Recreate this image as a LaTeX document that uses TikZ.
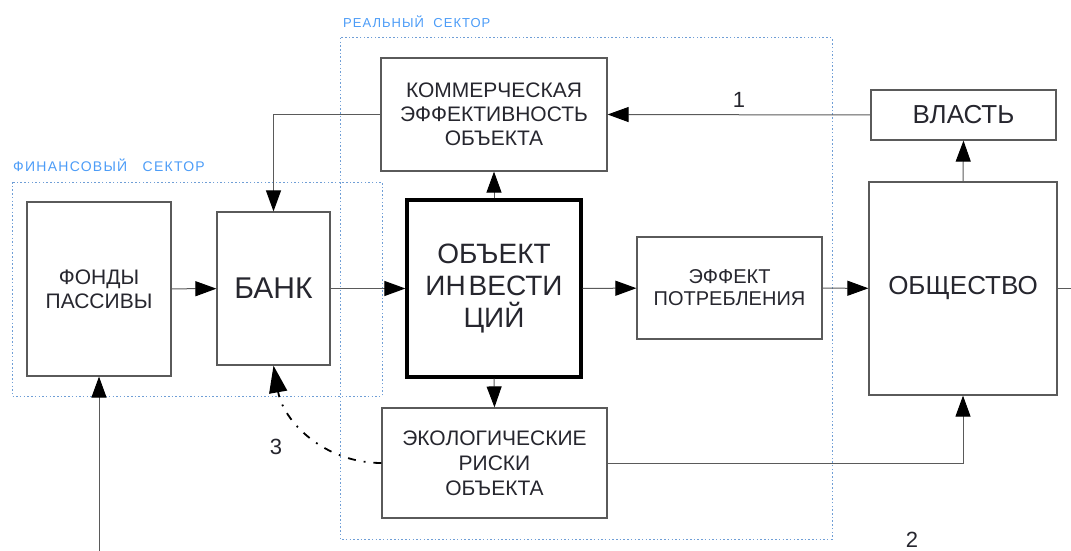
\documentclass[tikz,border=0pt]{standalone}
\usepackage{fontspec}
\setmainfont{Liberation Sans}
\usetikzlibrary{arrows.meta}

\definecolor{boxgray}{HTML}{5A5A5A}
\definecolor{sectblue}{HTML}{6F9ED6}
\definecolor{labblue}{HTML}{4C9CF7}
\definecolor{txtdark}{HTML}{26262E}

\begin{document}
\begin{tikzpicture}[x=1pt,y=-1pt,
    blk/.style={draw=boxgray,line width=1.2pt,rectangle,inner sep=0pt,align=center,text=txtdark},
    link/.style={draw=boxgray,line width=1pt,-{Triangle[length=21pt,width=15pt,color=black]}},
    sector/.style={draw=sectblue,line width=1pt,dash pattern=on 1.5pt off 2.2pt},
    sectlab/.style={anchor=west,inner sep=0pt,text=labblue,font=\fontsize{13}{15}\selectfont\addfontfeatures{LetterSpace=8}},
    num/.style={inner sep=0pt,text=txtdark,font=\fontsize{22}{24}\selectfont}]
  \useasboundingbox (0,0) rectangle (1071,551);
      % sectors
      \draw[sector] (12,182) rectangle (382,396);
      \draw[sector] (340,38) rectangle (832,539);
      \node[sectlab,font=\fontsize{14}{16}\selectfont\addfontfeatures{LetterSpace=9}] (fin) at (13,165) {ФИНАНСОВЫЙ\ \ \ СЕКТОР};
      \node[sectlab] (real) at (343,22) {РЕАЛЬНЫЙ\ \ СЕКТОР};
      % blocks
      \node[blk,minimum width=144,minimum height=174,font=\fontsize{21}{24}\selectfont] (fonds) at (99,289) {ФОНДЫ\\ПАССИВЫ};
      \node[blk,minimum width=113,minimum height=153,font=\fontsize{30}{32}\selectfont] (bank) at (273.5,288.5) {БАНК};
      \node[blk,minimum width=226,minimum height=113,font=\fontsize{21}{24}\selectfont] (komm) at (494,114.5) {КОММЕРЧЕСКАЯ\\ЭФФЕКТИВНОСТЬ\\ОБЪЕКТА};
      \node[blk,draw=black,line width=3.2pt,minimum width=174,minimum height=177,font=\fontsize{28}{32}\selectfont] (obj) at (494,288.5) {ОБЪЕКТ\\ИН\kern3pt ВЕСТИ\\ЦИЙ};
      \node[blk,minimum width=185,minimum height=102,font=\fontsize{20}{22}\selectfont] (eff) at (729.5,288) {ЭФФЕКТ\\ПОТРЕБЛЕНИЯ};
      \node[blk,minimum width=225,minimum height=110,font=\fontsize{21}{25}\selectfont] (eco) at (494.5,463) {ЭКОЛОГИЧЕСКИЕ\\РИСКИ\\ОБЪЕКТА};
      \node[blk,minimum width=185,minimum height=50,font=\fontsize{26}{28}\selectfont] (vlast) at (963.5,115) {ВЛАСТЬ};
      \node[blk,minimum width=188,minimum height=213,font=\fontsize{26}{28}\selectfont] (obsch) at (963,288.5) {ОБЩЕСТВО};
      \coordinate (inflow) at (99,551);
      \coordinate (outflow) at (1071,288.5);
      % links
      \draw[link] (komm.west) -| (bank.north);
      \draw[link] (vlast.west) -- node[num,above=7pt] (lab1) {1} (komm.east);
      \draw[link] (obsch.north) -- (vlast.south);
      \draw[link] (fonds) -- (bank);
      \draw[link] (bank) -- (obj);
      \draw[link] (obj) -- (eff);
      \draw[link] (eff) -- (obsch);
      \draw[link] (obj.north) -- (komm.south);
      \draw[link] (obj.south) -- (eco.north);
      \draw[link] (eco.east) -| (obsch.south);
      \draw[link] (inflow) -- (fonds.south);
      \draw[draw=boxgray,line width=1pt] (obsch.east) -- (outflow);
      \draw[draw=black,line width=1.8pt,dash pattern=on 8pt off 8pt on 1.8pt off 8pt,
            -{Triangle[length=27pt,width=18pt,color=black]}]
            (eco.west) to[out=180,in=-80] (bank.south);
      \node[num] (lab3) at (276,447) {3};
      \node[num] (lab2) at (912,540) {2};
    \end{tikzpicture}
\end{document}
